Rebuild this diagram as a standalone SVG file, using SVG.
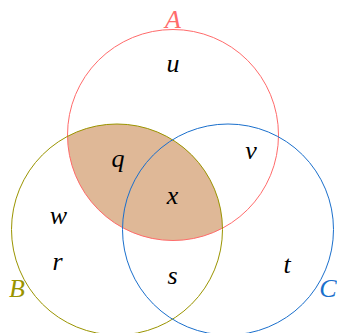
<svg xmlns="http://www.w3.org/2000/svg" width="337" height="333" viewBox="0 0 337 333">
<style>
.c{fill:none;stroke-width:1}
.t{font-family:"Liberation Serif",serif;font-style:italic;font-size:26px;text-anchor:middle;fill:#000}
</style>
<rect width="337" height="333" fill="#fff"/>
<g id="shade">
<path d="M67.5 136.3 A105.5 105.5 0 0 1 222.5 228.2 A105.5 105.5 0 0 1 67.5 136.3 Z" fill="#dfb897"/>
</g>
<g id="setA">
<circle class="c" cx="173" cy="135" r="105.5" stroke="#ff6b6b"/>
<text class="t" x="173" y="28" fill="#ff6b6b" style="fill:#ff6b6b">A</text>
</g>
<g id="setB">
<circle class="c" cx="117" cy="229.5" r="105.5" stroke="#9a9400"/>
<text class="t" x="17" y="297" style="fill:#9a9400">B</text>
</g>
<g id="setC">
<circle class="c" cx="228" cy="229.5" r="105.5" stroke="#1a6fcc"/>
<text class="t" x="328" y="297" style="fill:#1a6fcc">C</text>
</g>
<g id="elements">
<text class="t" x="173" y="72">u</text>
<text class="t" x="118" y="167">q</text>
<text class="t" x="251" y="159">v</text>
<text class="t" x="172.5" y="204">x</text>
<text class="t" x="58.5" y="224">w</text>
<text class="t" x="57.5" y="270">r</text>
<text class="t" x="172.5" y="284">s</text>
<text class="t" x="287" y="273">t</text>
</g>
</svg>
